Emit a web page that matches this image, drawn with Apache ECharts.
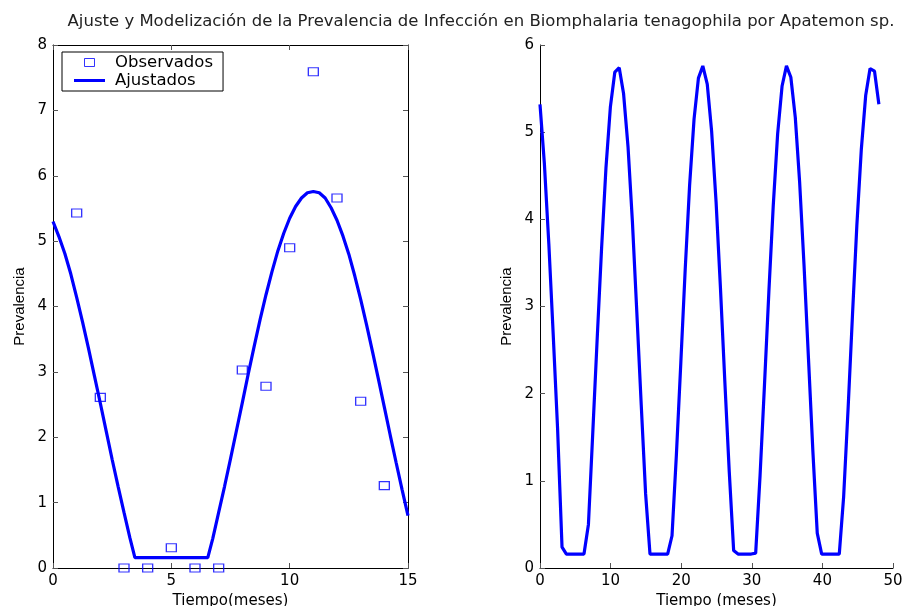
<!DOCTYPE html>
<html>
<head>
<meta charset="utf-8">
<script src="https://cdn.jsdelivr.net/npm/echarts@6/dist/echarts.min.js"></script>
<style>
html,body{margin:0;padding:0;background:#fff;}
#chart{width:905px;height:606px;}
</style>
</head>
<body>
<div id="chart"></div>
<script>
var titleText = 'Ajuste y Modelización de la Prevalencia de Infección en Biomphalaria tenagophila por Apatemon sp.';

// Observed prevalence (left panel)
var obsT = [1, 2, 3, 4, 5, 6, 7, 8, 9, 10, 11, 12, 13, 14];
var obsY = [5.43, 2.61, 0, 0, 0.31, 0, 0, 3.03, 2.78, 4.90, 7.59, 5.66, 2.55, 1.26];

// Fitted curve (left panel)
var fitT = [0,0.25,0.5,0.75,1,1.25,1.5,1.75,2,2.25,2.5,2.75,3,3.25,3.46,4,4.5,5,5.5,6,6.54,
            6.75,7,7.25,7.5,7.75,8,8.25,8.5,8.75,9,9.25,9.5,9.75,10,10.25,10.5,10.75,11,
            11.25,11.5,11.75,12,12.25,12.5,12.75,13,13.25,13.5,13.75,14,14.25,14.5,14.75,15];
var fitY = [5.30,5.07,4.81,4.50,4.14,3.76,3.36,2.94,2.52,2.09,1.66,1.25,0.85,0.46,0.16,0.16,0.16,0.16,0.16,0.16,0.16,
            0.45,0.85,1.25,1.67,2.10,2.53,2.97,3.39,3.80,4.18,4.53,4.85,5.12,5.35,5.53,5.66,5.74,5.76,
            5.74,5.66,5.51,5.32,5.08,4.80,4.47,4.11,3.72,3.31,2.89,2.46,2.03,1.61,1.20,0.80];

// Simulated curve (right panel)
var simT = [0,0.62,1.25,1.87,2.49,3.12,3.74,4.36,4.99,5.61,6.23,6.86,7.48,8.10,8.73,9.35,9.97,10.60,11.22,11.84,
            12.47,13.09,13.71,14.34,14.96,15.58,16.21,16.83,17.45,18.08,18.70,19.32,19.95,20.57,21.19,21.82,22.44,23.06,23.69,24.31,
            24.94,25.56,26.18,26.81,27.43,28.05,28.68,29.30,29.92,30.55,31.17,31.79,32.42,33.04,33.66,34.29,34.91,35.53,36.16,36.78,
            37.40,38.03,38.65,39.27,39.90,40.52,41.14,41.77,42.39,43.01,43.64,44.26,44.88,45.51,46.13,46.75,47.38,48.00];
var simY = [5.32,4.64,3.72,2.68,1.60,0.24,0.16,0.16,0.16,0.16,0.16,0.50,1.56,2.63,3.68,4.60,5.29,5.69,5.74,5.44,
            4.83,3.97,2.94,1.87,0.85,0.16,0.16,0.16,0.16,0.16,0.37,1.30,2.36,3.43,4.39,5.15,5.62,5.76,5.55,5.01,
            4.20,3.21,2.14,1.10,0.20,0.16,0.16,0.16,0.16,0.17,1.06,2.09,3.17,4.16,4.98,5.53,5.76,5.63,5.17,4.42,
            3.47,2.40,1.34,0.40,0.16,0.16,0.16,0.16,0.16,0.82,1.83,2.90,3.93,4.80,5.42,5.73,5.70,5.32];

// Axis ticks
var leftXTicks = {min: 0, max: 15, interval: 5};
var leftYTicks = {min: 0, max: 8, interval: 1};
var rightXTicks = {min: 0, max: 50, interval: 10};
var rightYTicks = {min: 0, max: 6, interval: 1};

function zip(a, b) { return a.map(function (v, i) { return [v, b[i]]; }); }

var BLUE = '#0000ff';
var HFONT = 'DejaVu Sans';
var axisLineStyle = {show: true, onZero: false, lineStyle: {color: '#000', width: 1}};
var tickStyle = {show: true, inside: true, length: 5, lineStyle: {color: '#555', width: 1}};
var labelStyle = {color: '#000', fontSize: 15, fontFamily: HFONT, margin: 6};

function xAxis(grid, ticks, pos, name, showLabel) {
  return {
    type: 'value', gridIndex: grid, position: pos,
    min: ticks.min, max: ticks.max, interval: ticks.interval,
    axisLine: axisLineStyle, axisTick: tickStyle, splitLine: {show: false},
    axisLabel: Object.assign({show: showLabel}, labelStyle),
    name: name, nameLocation: 'middle', nameGap: 25,
    nameTextStyle: {color: '#000', fontSize: 15, fontFamily: HFONT}
  };
}
function yAxis(grid, ticks, pos, name, showLabel) {
  return {
    type: 'value', gridIndex: grid, position: pos,
    min: ticks.min, max: ticks.max, interval: ticks.interval,
    axisLine: axisLineStyle, axisTick: tickStyle, splitLine: {show: false},
    axisLabel: Object.assign({show: showLabel}, labelStyle),
    name: name, nameLocation: 'middle', nameGap: 26, nameRotate: 90,
    nameTextStyle: {color: '#000', fontSize: 15, fontFamily: 'Liberation Sans'}
  };
}

var chart = echarts.init(document.getElementById('chart'), null, {renderer: 'canvas'});
chart.setOption({
  animation: false,
  backgroundColor: '#fff',
  graphic: [{
    type: 'text', x: 481, y: 22, z: 10, scaleX: 1.1,
    style: {text: titleText, fontSize: 15, fontFamily: HFONT, fill: '#222',
            align: 'center', verticalAlign: 'middle', textAlign: 'center', textVerticalAlign: 'middle'}
  }],
  grid: [
    {left: 53, top: 45, width: 355, height: 523, containLabel: false, outerBoundsMode: 'none'},
    {left: 540, top: 45, width: 353, height: 523, containLabel: false, outerBoundsMode: 'none'}
  ],
  xAxis: [
    xAxis(0, leftXTicks, 'bottom', 'Tiempo(meses)', true),
    xAxis(0, leftXTicks, 'top', '', false),
    xAxis(1, rightXTicks, 'bottom', 'Tiempo (meses)', true)
  ],
  yAxis: [
    yAxis(0, leftYTicks, 'left', 'Prevalencia', true),
    yAxis(0, leftYTicks, 'right', '', false),
    yAxis(1, rightYTicks, 'left', 'Prevalencia', true)
  ],
  legend: {
    orient: 'vertical', left: 62, top: 52,
    backgroundColor: '#fff', borderColor: '#000', borderWidth: 1, borderRadius: 0,
    padding: [2, 10, 2, 12], itemGap: 1, itemWidth: 31, itemHeight: 8,
    textStyle: {color: '#000', fontSize: 16.5, fontFamily: HFONT, padding: [0, 0, 0, 5]},
    data: [
      {name: 'Observados', icon: 'path://M0,0H10V8H0Z',
       itemStyle: {color: 'rgba(0,0,0,0)', borderColor: BLUE, borderWidth: 1}},
      {name: 'Ajustados', icon: 'path://M0,0H31V3H0Z',
       itemStyle: {color: BLUE, borderWidth: 0}}
    ]
  },
  series: [
    {
      name: 'Ajustados', type: 'line', xAxisIndex: 0, yAxisIndex: 0,
      data: zip(fitT, fitY), showSymbol: false, symbol: 'none', smooth: false,
      lineStyle: {color: BLUE, width: 3.2}, itemStyle: {color: BLUE}, z: 2
    },
    {
      name: 'Observados', type: 'scatter', xAxisIndex: 0, yAxisIndex: 0,
      data: zip(obsT, obsY), symbol: 'rect', symbolSize: [10, 8],
      itemStyle: {color: 'rgba(0,0,0,0)', borderColor: BLUE, borderWidth: 1.2}, z: 3
    },
    {
      name: 'Simulación', type: 'line', xAxisIndex: 2, yAxisIndex: 2,
      data: zip(simT, simY), showSymbol: false, symbol: 'none',
      lineStyle: {color: BLUE, width: 3.2}, itemStyle: {color: BLUE}, z: 2
    }
  ]
});
</script>
</body>
</html>
